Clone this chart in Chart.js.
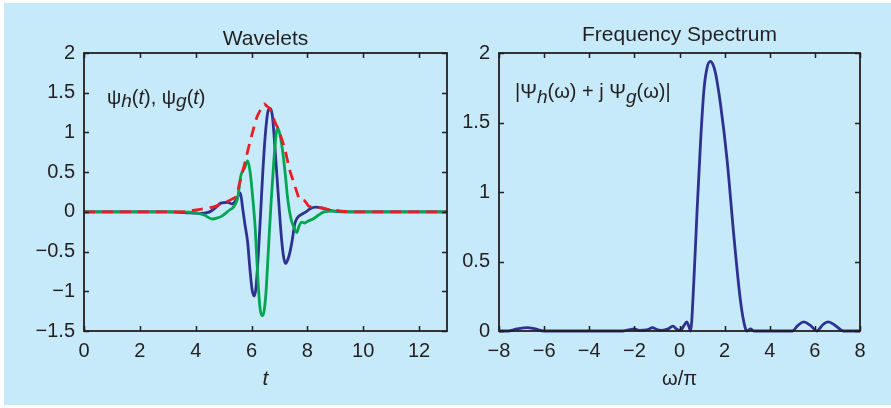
<!DOCTYPE html>
<html>
<head>
<meta charset="utf-8">
<script src="https://cdn.jsdelivr.net/npm/chart.js"></script>
<style>
  html, body { margin: 0; padding: 0; background: #fff; }
  #wrap { position: relative; width: 891px; height: 408px; overflow: hidden; }
  #bg { position: absolute; left: 4px; top: 3px; right: 0; bottom: 3px; background: #c7eafa; }
  #c1 { position: absolute; left: 0; top: 0; }
  #c2 { position: absolute; left: 455px; top: 0; }
</style>
</head>
<body>
<div id="wrap">
  <div id="bg"></div>
  <canvas id="c1" width="455" height="408"></canvas>
  <canvas id="c2" width="436" height="408"></canvas>
</div>
<script>
// left panel: wavelets psi_h (blue), psi_g (green), envelope (red dashed)
const hT = [0, 3.0, 3.6, 4.2, 4.5, 4.7, 4.9, 5.15, 5.3, 5.45, 5.6, 5.68, 5.76, 5.86, 5.95, 6.02, 6.1, 6.16, 6.24, 6.32, 6.4, 6.5, 6.6, 6.68, 6.75, 6.82, 6.9, 6.98, 7.06, 7.14, 7.22, 7.3, 7.38, 7.46, 7.55, 7.65, 7.8, 7.95, 8.1, 8.3, 8.5, 8.8, 9.3, 13];
const hV = [0, 0, -0.01, -0.02, 0.0, 0.05, 0.11, 0.12, 0.10, 0.15, 0.24, 0.05, -0.15, -0.38, -0.75, -0.98, -1.06, -0.95, -0.55, -0.05, 0.48, 1.0, 1.28, 1.3, 1.2, 0.9, 0.5, 0.1, -0.28, -0.55, -0.65, -0.6, -0.5, -0.35, -0.15, -0.07, -0.03, 0.0, 0.04, 0.06, 0.05, 0.02, 0.0, 0];

const gT = [0, 3.5, 4.0, 4.3, 4.6, 4.75, 4.95, 5.2, 5.35, 5.5, 5.62, 5.75, 5.86, 5.95, 6.05, 6.13, 6.22, 6.3, 6.38, 6.45, 6.52, 6.6, 6.7, 6.8, 6.88, 6.93, 7.0, 7.1, 7.2, 7.3, 7.42, 7.55, 7.62, 7.7, 7.8, 7.9, 8.0, 8.2, 8.4, 8.6, 8.9, 9.5, 13];
const gV = [0, 0, -0.01, -0.04, -0.09, -0.08, -0.05, 0.02, 0.06, 0.17, 0.46, 0.55, 0.64, 0.5, 0.15, -0.2, -0.8, -1.2, -1.31, -1.25, -1.0, -0.5, 0.12, 0.65, 0.98, 1.05, 1.0, 0.8, 0.5, 0.15, -0.1, -0.22, -0.26, -0.18, -0.13, -0.14, -0.12, -0.09, -0.04, 0.0, 0.01, 0, 0];

const eT = [0, 3.5, 3.9, 4.3, 4.7, 5.0, 5.3, 5.45, 5.6, 5.75, 5.9, 6.05, 6.2, 6.35, 6.45, 6.55, 6.65, 6.75, 6.85, 6.95, 7.05, 7.2, 7.35, 7.5, 7.65, 7.72, 7.85, 7.95, 8.05, 8.2, 8.5, 8.8, 9.2, 9.6, 13];
const eV = [0, 0, 0.02, 0.04, 0.07, 0.11, 0.16, 0.2, 0.4, 0.6, 0.82, 1.02, 1.2, 1.3, 1.36, 1.33, 1.3, 1.22, 1.12, 1.05, 0.95, 0.78, 0.55, 0.38, 0.22, 0.15, 0.15, 0.12, 0.07, 0.06, 0.05, 0.03, 0.01, 0, 0];

// right panel: |Psi_h + j Psi_g| against omega/pi
const wX = [-8, -7.6, -7.2, -6.75, -6.4, -6.0, -2.5, -2.2, -2.0, -1.8, -1.4, -1.2, -1.0, -0.8, -0.5, -0.3, -0.1, 0.05, 0.2, 0.32, 0.42, 0.49, 0.63, 0.78, 0.93, 1.08, 1.23, 1.37, 1.5, 1.59, 1.81, 2.11, 2.4, 2.7, 2.9, 3.0, 3.15, 3.3, 5.0, 5.25, 5.5, 5.8, 6.09, 6.35, 6.6, 6.9, 7.27, 8];
const wV = [0, 0, 0.015, 0.025, 0.015, 0, 0, 0.01, 0.015, 0.005, 0.01, 0.025, 0.01, 0.005, 0.015, 0.035, 0.01, 0.005, 0.04, 0.065, 0.03, 0.0, 0.34, 0.87, 1.35, 1.73, 1.9, 1.94, 1.91, 1.86, 1.64, 1.23, 0.7, 0.22, 0.03, 0, 0.015, 0, 0, 0.04, 0.065, 0.04, 0, 0.045, 0.065, 0.04, 0, 0];

const leftXTicks = { min: 0, max: 13, step: 2 };
const leftYTicks = { min: -1.5, max: 2, step: 0.5 };
const rightXTicks = { min: -8, max: 8, step: 2 };
const rightYTicks = { min: 0, max: 2, step: 0.5 };

const INK = '#231f20';
const BLUE = '#2e3192';
const GREEN = '#00a651';
const RED = '#ed1c24';
const FONT = "'Liberation Sans', Arial, sans-serif";

const zip = (xs, ys) => xs.map((x, i) => ({ x: x, y: ys[i] }));
const fmt = v => String(v).replace('-', '\u2212');

// MATLAB-like box with inward ticks on all four sides
const boxTicks = {
  id: 'boxTicks',
  afterDatasetsDraw(chart) {
    const { ctx, chartArea: a, scales: { x, y } } = chart;
    ctx.save();
    ctx.strokeStyle = INK;
    ctx.lineWidth = 1.5;
    ctx.beginPath();
    x.ticks.forEach(t => {
      const p = Math.round(x.getPixelForValue(t.value)) + 0.5;
      ctx.moveTo(p, a.bottom); ctx.lineTo(p, a.bottom - 5);
      ctx.moveTo(p, a.top); ctx.lineTo(p, a.top + 5);
    });
    y.ticks.forEach(t => {
      const p = Math.round(y.getPixelForValue(t.value)) + 0.5;
      ctx.moveTo(a.left, p); ctx.lineTo(a.left + 5, p);
      ctx.moveTo(a.right, p); ctx.lineTo(a.right - 5, p);
    });
    ctx.stroke();
    ctx.lineWidth = 1.8;
    ctx.strokeRect(a.left, a.top, a.right - a.left, a.bottom - a.top);
    ctx.restore();
  }
};

// title, axis title and in-plot label with italic subscripts
function drawRich(ctx, parts, x, y) {
  parts.forEach(p => {
    ctx.font = p.f;
    ctx.fillText(p.s, x, y + (p.dy || 0));
    x += ctx.measureText(p.s).width;
  });
}

const textPlugin = {
  id: 'panelText',
  afterDraw(chart, args, opts) {
    const { ctx, chartArea: a } = chart;
    const cx = (a.left + a.right) / 2;
    ctx.save();
    ctx.fillStyle = INK;
    ctx.textBaseline = 'alphabetic';
    ctx.textAlign = 'center';
    ctx.font = '21px ' + FONT;
    ctx.fillText(opts.title, cx, a.top - opts.titleGap);
    ctx.font = opts.xTitleFont;
    ctx.fillText(opts.xTitle, cx, a.bottom + 54);
    ctx.textAlign = 'left';
    drawRich(ctx, opts.label, a.left + opts.labelDx, a.top + opts.labelDy);
    ctx.restore();
  }
};

const N = '20px ' + FONT;
const S = 'italic 19px ' + FONT;
const I = 'italic 20px ' + FONT;

function baseOptions(xt, yt, yWidth, padRight, text) {
  return {
    responsive: false,
    animation: false,
    layout: { padding: { left: 0, right: padRight, top: 53, bottom: 0 } },
    plugins: { legend: { display: false }, tooltip: { enabled: false }, panelText: text },
    scales: {
      x: {
        type: 'linear', min: xt.min, max: xt.max,
        grid: { display: false, drawTicks: false }, border: { display: false },
        ticks: { stepSize: xt.step, includeBounds: false, autoSkip: false, maxRotation: 0, padding: 8,
                 color: INK, font: { family: FONT, size: 20 }, callback: fmt },
        afterFit(s) { s.height = 77; }
      },
      y: {
        type: 'linear', min: yt.min, max: yt.max,
        grid: { display: false, drawTicks: false }, border: { display: false },
        ticks: { stepSize: yt.step, autoSkip: false, padding: 9,
                 color: INK, font: { family: FONT, size: 20 }, callback: fmt },
        afterFit(s) { s.width = yWidth; }
      }
    }
  };
}

const lineStyle = { pointRadius: 0, borderWidth: 2.8, cubicInterpolationMode: 'monotone', clip: 5, fill: false };

new Chart(document.getElementById('c1'), {
  type: 'line',
  data: {
    datasets: [
      Object.assign({ data: zip(eT, eV), borderColor: RED, borderDash: [11, 7], order: 0 }, lineStyle),
      Object.assign({ data: zip(gT, gV), borderColor: GREEN, order: 1 }, lineStyle),
      Object.assign({ data: zip(hT, hV), borderColor: BLUE, order: 2 }, lineStyle)
    ]
  },
  options: baseOptions(leftXTicks, leftYTicks, 84, 8, {
    title: 'Wavelets', titleGap: 8, xTitle: 't', xTitleFont: 'italic 21px ' + FONT,
    labelDx: 23, labelDy: 51,
    label: [
      { s: '\u03C8', f: N }, { s: 'h', f: S, dy: 3 }, { s: '(', f: N }, { s: 't', f: I }, { s: '), ', f: N },
      { s: '\u03C8', f: N }, { s: 'g', f: S, dy: 3 }, { s: '(', f: N }, { s: 't', f: I }, { s: ')', f: N }
    ]
  }),
  plugins: [boxTicks, textPlugin]
});

new Chart(document.getElementById('c2'), {
  type: 'line',
  data: {
    datasets: [
      Object.assign({ data: zip(wX, wV), borderColor: BLUE }, lineStyle)
    ]
  },
  options: baseOptions(rightXTicks, rightYTicks, 44, 31, {
    title: 'Frequency Spectrum', titleGap: 12, xTitle: '\u03C9/\u03C0', xTitleFont: '20px ' + FONT,
    labelDx: 16, labelDy: 45,
    label: [
      { s: '|\u03A8', f: N }, { s: 'h', f: S, dy: 5 }, { s: '(\u03C9) + j \u03A8', f: N },
      { s: 'g', f: S, dy: 5 }, { s: '(\u03C9)|', f: N }
    ]
  }),
  plugins: [boxTicks, textPlugin]
});
</script>
</body>
</html>
